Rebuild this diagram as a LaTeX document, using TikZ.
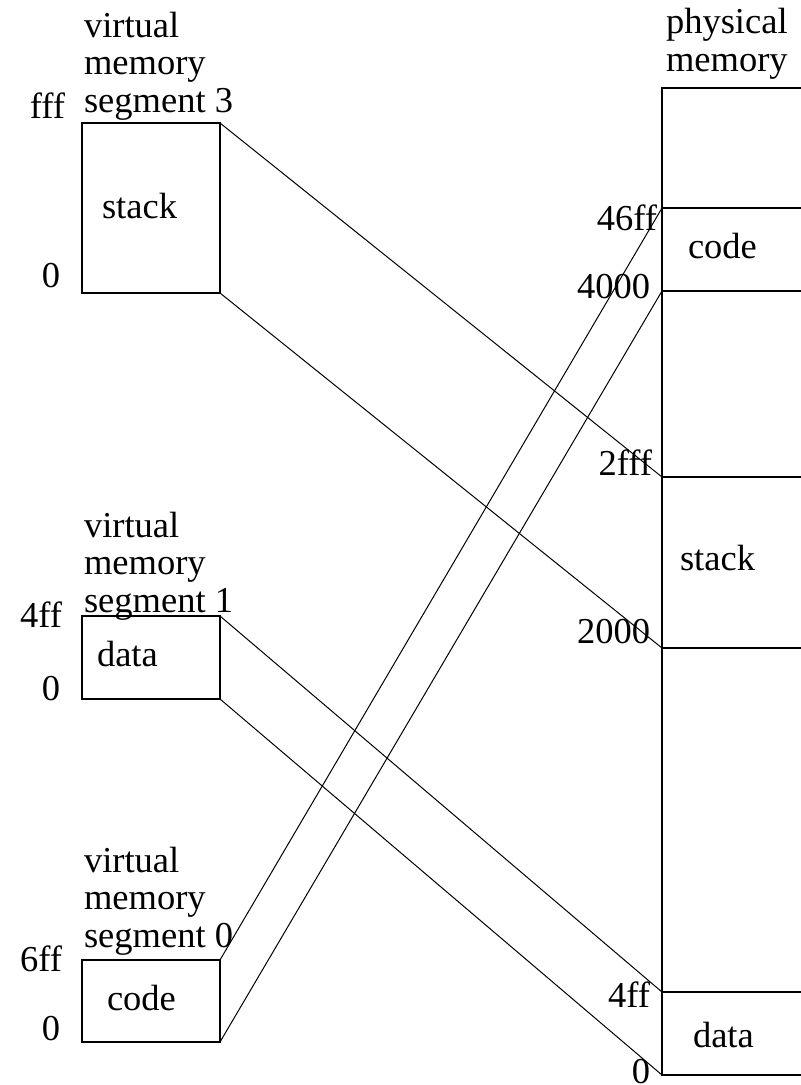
\documentclass[tikz,border=0pt]{standalone}
\usepackage{fontspec}
\setmainfont{Liberation Serif}
\begin{document}
\begin{tikzpicture}[x=1pt,y=-1pt,
  lbl/.style={inner sep=0pt,outer sep=0pt,font=\fontsize{36.5}{37.5}\selectfont},
  head/.style={lbl,align=left},
  seg/.style={draw,line width=2pt,inner sep=0pt,outer sep=0pt,minimum width=138pt,anchor=north west},
  wall/.style={line width=2pt},
  link/.style={line width=1pt}]
\useasboundingbox (0,0) rectangle (801,1085);
% virtual segment boxes
\node[seg,minimum height=170pt] (s3) at (82,123) {};
\node[seg,minimum height=83pt] (s1) at (82,616) {};
\node[seg,minimum height=82pt] (s0) at (82,960) {};
% headings (base anchor = last line)
\node[head,anchor=base west] (h3) at (84,112) {virtual\\memory\\segment 3};
\node[head,anchor=base west] (h1) at (84,612) {virtual\\memory\\segment 1};
\node[head,anchor=base west] (h0) at (84,947) {virtual\\memory\\segment 0};
\node[head,anchor=base west] (hp) at (666,71) {physical\\memory};
% segment labels
\node[lbl,anchor=base west] (t3) at (102,218) {stack};
\node[lbl,anchor=base west] (t1) at (97,666) {data};
\node[lbl,anchor=base west] (t0) at (107,1010) {code};
% virtual addresses
\node[lbl,anchor=base east] (a3h) at (65,118) {fff};
\node[lbl,anchor=base east] (a3l) at (60,287) {0};
\node[lbl,anchor=base east] (a1h) at (62,627) {4ff};
\node[lbl,anchor=base east] (a1l) at (60,700) {0};
\node[lbl,anchor=base east] (a0h) at (62,971) {6ff};
\node[lbl,anchor=base east] (a0l) at (60,1040) {0};
% physical memory boundaries
\coordinate (ptop) at (662,88);
\coordinate (ptopR) at (801,88);
\coordinate (p46ff) at (662,208);
\coordinate (p46ffR) at (801,208);
\coordinate (p4000) at (662,291);
\coordinate (p4000R) at (801,291);
\coordinate (p2fff) at (662,477);
\coordinate (p2fffR) at (801,477);
\coordinate (p2000) at (662,648);
\coordinate (p2000R) at (801,648);
\coordinate (p4ff) at (662,992);
\coordinate (p4ffR) at (801,992);
\coordinate (p0) at (662,1075);
\coordinate (p0R) at (801,1075);
\draw[wall] (ptopR) -- (ptop) -- (p0) -- (p0R);
\draw[wall] (p46ff) -- (p46ffR);
\draw[wall] (p4000) -- (p4000R);
\draw[wall] (p2fff) -- (p2fffR);
\draw[wall] (p2000) -- (p2000R);
\draw[wall] (p4ff) -- (p4ffR);
% physical labels
\node[lbl,anchor=base west] (pc) at (688,258) {code};
\node[lbl,anchor=base west] (ps) at (680,570) {stack};
\node[lbl,anchor=base west] (pd) at (693,1047) {data};
\node[lbl,anchor=base east] (l46ff) at (657,230) {46ff};
\node[lbl,anchor=base east] (l4000) at (650,298) {4000};
\node[lbl,anchor=base east] (l2fff) at (652,475) {2fff};
\node[lbl,anchor=base east] (l2000) at (650,643) {2000};
\node[lbl,anchor=base east] (l4ff) at (650,1007) {4ff};
\node[lbl,anchor=base east] (l0) at (650,1083) {0};
% mapping connectors
\draw[link] (s3.north east) -- (p2fff);
\draw[link] (s3.south east) -- (p2000);
\draw[link] (s1.north east) -- (p4ff);
\draw[link] (s1.south east) -- (p0);
\draw[link] (s0.north east) -- (p46ff);
\draw[link] (s0.south east) -- (p4000);
\end{tikzpicture}
\end{document}
